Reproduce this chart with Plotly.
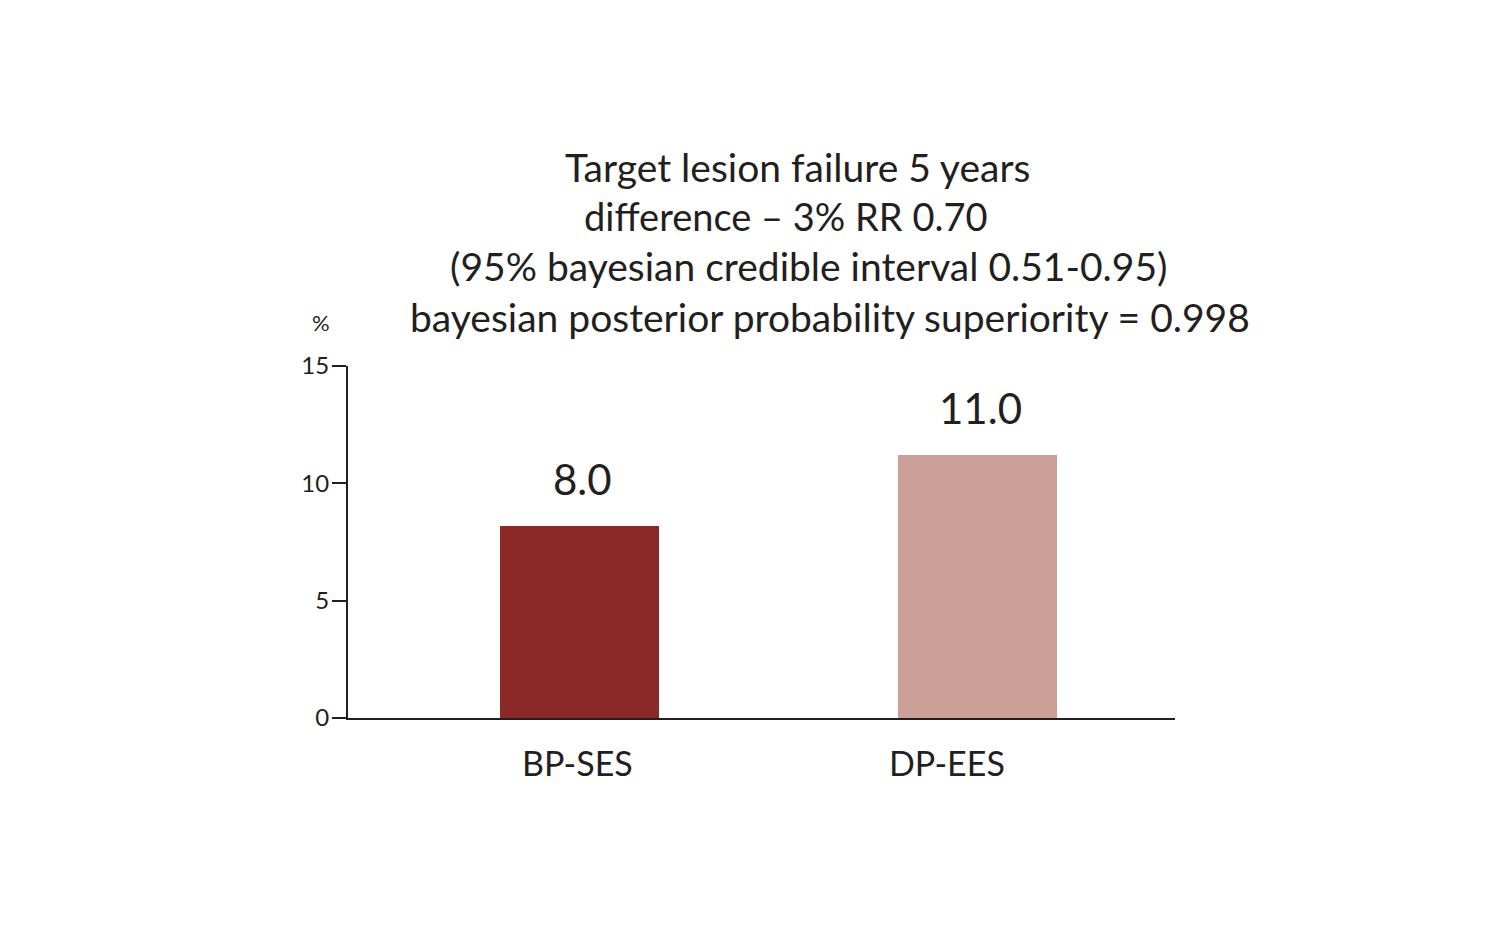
import plotly.graph_objects as go

categories = ["BP-SES", "DP-EES"]
values = [8.2, 11.2]
value_labels = ["8.0", "11.0"]
colors = ["#8B2828", "#CBA097"]
title_lines = [
    "Target lesion failure 5 years",
    "difference – 3% RR 0.70",
    "(95% bayesian credible interval 0.51-0.95)",
    "bayesian posterior probability superiority = 0.998",
]
y_ticks = [0, 5, 10, 15]

FONT = "Lato"
TXT = "#231F20"

fig = go.Figure()
fig.add_trace(go.Bar(
    x=categories, y=values, marker=dict(color=colors, line=dict(width=0)),
    width=0.4, hoverinfo="skip",
))

W, H = 1512, 945
PL, PR, PT, PB = 348, 1175, 366, 718
L, R, T, B = PL, W - PR, PT, H - PB

annotations = []
# value labels
for c, v, t in zip(categories, values, value_labels):
    annotations.append(dict(x=c, y=v, xref="x", yref="y", text=t, showarrow=False,
                            yanchor="middle", yshift=47, xshift=3,
                            font=dict(family=FONT, size=42, color=TXT)))
# category labels
cat_shift = [-2, -31]
for c, s in zip(categories, cat_shift):
    annotations.append(dict(x=c, y=0, xref="x", yref="y", text=c, showarrow=False,
                            yanchor="middle", yshift=-44, xshift=s,
                            font=dict(family=FONT, size=34, color=TXT)))
# title lines (pixel centres converted to plot-area paper coords)
centers = [797, 785, 808, 830]
mids = [167, 216, 266, 317]
sizes = [39, 38, 39, 39]
for line, cx, cy, sz in zip(title_lines, centers, mids, sizes):
    annotations.append(dict(x=(cx - PL) / (PR - PL), y=(PB - cy) / (PB - PT),
                            xref="paper", yref="paper", text=line,
                            showarrow=False, xanchor="center", yanchor="middle",
                            font=dict(family=FONT, size=sz, color=TXT)))
# percent label
annotations.append(dict(x=0, y=15, xref="paper", yref="y", text="%", showarrow=False,
                        xanchor="center", yanchor="middle", xshift=-27, yshift=44,
                        font=dict(family=FONT, size=22, color=TXT)))

fig.update_layout(
    width=W, height=H,
    margin=dict(l=L, r=R, t=T, b=B),
    paper_bgcolor="white", plot_bgcolor="white",
    showlegend=False,
    annotations=annotations,
    bargap=0,
    xaxis=dict(range=[-0.582, 1.496], showticklabels=False, ticks="",
               showline=True, linecolor=TXT, linewidth=2, showgrid=False,
               zeroline=False, fixedrange=True),
    yaxis=dict(range=[0, 15], tickvals=y_ticks, ticks="outside", ticklen=14,
               tickwidth=2, tickcolor=TXT, showline=True, linecolor=TXT, linewidth=2,
               showgrid=False, zeroline=False, ticklabelstandoff=-2,
               tickfont=dict(family=FONT, size=24, color=TXT), fixedrange=True),
)

fig.write_html("out.html")
